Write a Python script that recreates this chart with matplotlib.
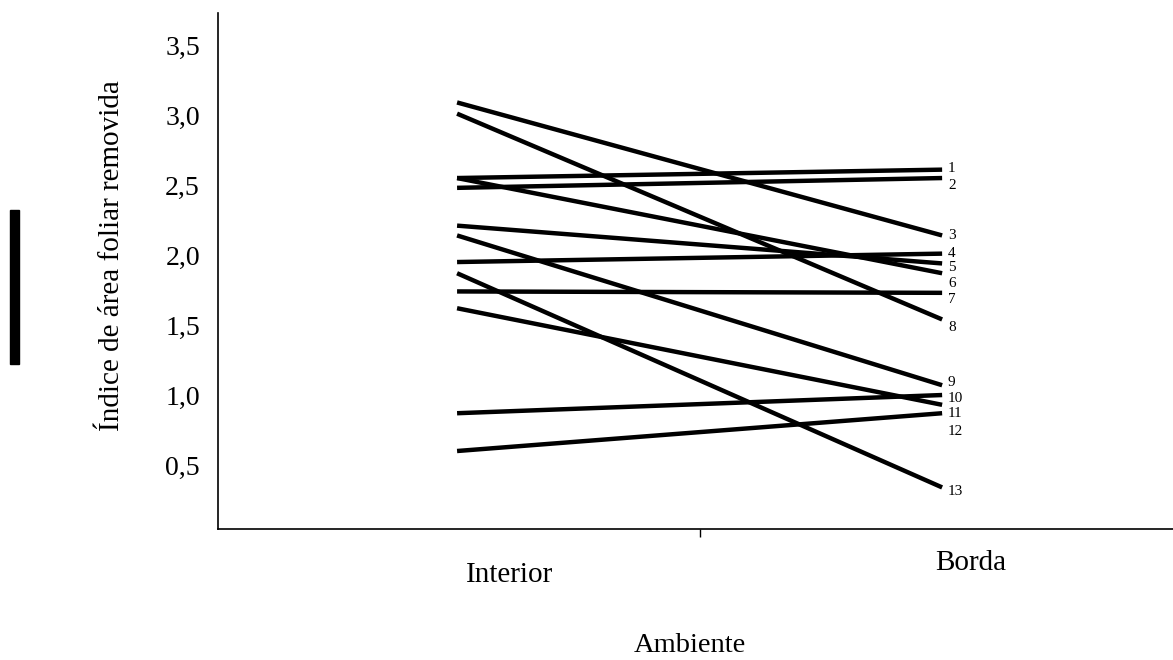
import numpy as np
import matplotlib.pyplot as plt
from matplotlib.patches import Rectangle
from matplotlib.transforms import blended_transform_factory

# data
ambientes = ["Interior", "Borda"]
ids = ["1", "2", "3", "4", "5", "6", "7", "8", "9", "10", "11", "12", "13"]
interior = [2.55, 2.48, 3.09, 1.95, 2.21, 2.55, 1.74, 3.01, 2.14, 0.87, 1.62, 0.60, 1.87]
borda = [2.61, 2.55, 2.14, 2.01, 1.94, 1.87, 1.73, 1.54, 1.07, 1.00, 0.93, 0.87, 0.34]
yticks = [0.5, 1.0, 1.5, 2.0, 2.5, 3.0, 3.5]

# where the numbers next to the line ends sit (they are spread apart a bit)
label_y = [2.62, 2.50, 2.14, 2.01, 1.91, 1.80, 1.68, 1.48, 1.09, 0.975, 0.87, 0.74, 0.31]

plt.rcParams['font.family'] = ['Liberation Serif', 'DejaVu Serif']

fig = plt.figure(figsize=(11.73, 6.6), dpi=100)
ax = fig.add_axes([0.1858, 0.1985, 0.8142, 0.7818])

x = np.arange(len(ambientes))
for a, b in zip(interior, borda):
    ax.plot(x, [a, b], color='black', lw=3.2, solid_capstyle='butt')

for name, yl in zip(ids, label_y):
    ax.text(1.012, yl, name, fontsize=11, va='center', ha='left')

ax.set_xlim(-0.493, 1.476)
ax.set_ylim(0.043, 3.729)

ax.set_yticks(yticks)
ax.set_yticklabels([f"{v:.1f}".replace('.', ',') for v in yticks])
ax.tick_params(axis='y', length=0, pad=13, labelsize=20)
ax.set_xticks([0.5])
ax.set_xticklabels([""])
ax.tick_params(axis='x', length=6, width=1, direction='out')

ax.spines['top'].set_visible(False)
ax.spines['right'].set_visible(False)
for s in ['left', 'bottom']:
    ax.spines[s].set_linewidth(1.2)

ax.set_ylabel("Índice de área foliar removida", fontsize=21)
ax.yaxis.set_label_coords(-0.097, 0.53)

# category names under the axis
trans = blended_transform_factory(ax.transData, ax.transAxes)
ax.text(0.109, -0.089, ambientes[0], transform=trans, fontsize=21, ha='center', va='center')
ax.text(1.058, -0.066, ambientes[1], transform=trans, fontsize=21, ha='center', va='center')
ax.text(0.494, -0.226, "Ambiente", transform=ax.transAxes, fontsize=20.5, ha='center', va='center')

# black bar at the far left of the slide
fig.patches.append(Rectangle((0.0085, 0.4485), 0.0077, 0.2333, transform=fig.transFigure,
                             color='black', zorder=5))

fig.savefig("out.png", dpi=100)
